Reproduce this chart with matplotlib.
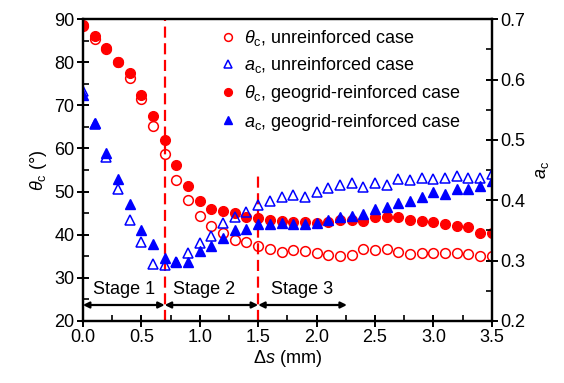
import numpy as np
import matplotlib
matplotlib.use("Agg")
import matplotlib.pyplot as plt
from matplotlib.ticker import MultipleLocator, FormatStrFormatter

plt.rcParams['font.family'] = ['Liberation Sans', 'DejaVu Sans']
plt.rcParams['mathtext.fontset'] = 'custom'
plt.rcParams['mathtext.rm'] = 'Liberation Sans'
plt.rcParams['mathtext.it'] = 'Liberation Sans:italic'
plt.rcParams['font.size'] = 13

# settlement increments (mm)
ds = [0.0, 0.1, 0.2, 0.3, 0.4, 0.5, 0.6, 0.7, 0.8, 0.9, 1.0, 1.1, 1.2,
      1.3, 1.4, 1.5, 1.6, 1.7, 1.8, 1.9, 2.0, 2.1, 2.2, 2.3, 2.4, 2.5,
      2.6, 2.7, 2.8, 2.9, 3.0, 3.1, 3.2, 3.3, 3.4, 3.5]

# critical angle theta_c (deg)
theta_unr = [88.5, 85.3, 83.1, 80.0, 76.3, 71.5, 65.2, 58.7, 52.6, 48.0,
             44.3, 42.0, 40.4, 38.8, 38.4, 37.4, 36.6, 35.9, 36.4, 36.2,
             35.8, 35.4, 35.1, 35.4, 36.8, 36.4, 36.6, 36.1, 35.5, 35.8,
             35.7, 35.7, 35.8, 35.5, 35.1, 35.1]
theta_geo = [88.6, 86.1, 83.2, 80.1, 77.4, 72.4, 67.5, 62.0, 56.2, 51.4,
             47.9, 45.9, 45.6, 45.1, 44.1, 43.9, 43.4, 43.2, 43.0, 43.0,
             42.8, 43.0, 43.4, 43.4, 43.2, 44.0, 44.2, 44.0, 43.4, 43.2,
             42.9, 42.4, 42.1, 41.9, 40.5, 40.3]

# shape coefficient a_c
a_unr = [0.581, 0.527, 0.471, 0.418, 0.368, 0.330, 0.294, 0.293, 0.298, 0.312,
         0.329, 0.341, 0.362, 0.373, 0.381, 0.392, 0.398, 0.405, 0.408, 0.405,
         0.414, 0.420, 0.425, 0.428, 0.422, 0.428, 0.426, 0.435, 0.433, 0.437,
         0.435, 0.437, 0.440, 0.437, 0.437, 0.443]
a_geo = [0.575, 0.528, 0.478, 0.436, 0.394, 0.351, 0.327, 0.305, 0.298, 0.297,
         0.316, 0.324, 0.338, 0.351, 0.352, 0.361, 0.361, 0.363, 0.361, 0.361,
         0.362, 0.367, 0.372, 0.374, 0.378, 0.385, 0.388, 0.395, 0.398, 0.405,
         0.414, 0.411, 0.418, 0.418, 0.424, 0.432]

# stage boundaries and labels
stage_bounds = [0.0, 0.7, 1.5, 2.26]
stage_names = ['Stage 1', 'Stage 2', 'Stage 3']
stage_label_x = [0.35, 1.04, 1.88]

red = '#ff0000'
blue = '#0000ff'

fig = plt.figure(figsize=(5.64, 3.83), dpi=100)
ax = fig.add_axes([0.147, 0.162, 0.725, 0.788])
ax2 = ax.twinx()

ms = 7
h1, = ax.plot(ds, theta_unr, 'o', ms=ms, mfc='none', mec=red, mew=1.1, ls='none')
h3, = ax.plot(ds, theta_geo, 'o', ms=ms, mfc=red, mec=red, ls='none')
h2, = ax2.plot(ds, a_unr, '^', ms=ms, mfc='none', mec=blue, mew=1.1, ls='none')
h4, = ax2.plot(ds, a_geo, '^', ms=ms, mfc=blue, mec=blue, ls='none')

# stage boundaries
ax.plot([0.7, 0.7], [20, 90], color=red, ls=(0, (5, 2.5)), lw=1.6)
ax.plot([1.5, 1.5], [20, 54.5], color=red, ls=(0, (5, 2.5)), lw=1.6)

for i, name in enumerate(stage_names):
    x0, x1 = stage_bounds[i], stage_bounds[i + 1]
    ax.annotate('', xy=(x1, 23.7), xytext=(x0, 23.7),
                arrowprops=dict(arrowstyle='<|-|>', color='black', lw=1.6,
                                mutation_scale=9, shrinkA=0, shrinkB=0))
    ax.text(stage_label_x[i], 27.2, name, ha='center', va='center')

ax.set_xlim(0, 3.5)
ax.set_ylim(20, 90)
ax2.set_ylim(0.2, 0.7)
ax.xaxis.set_major_locator(MultipleLocator(0.5))
ax.xaxis.set_minor_locator(MultipleLocator(0.25))
ax.yaxis.set_major_locator(MultipleLocator(10))
ax.yaxis.set_minor_locator(MultipleLocator(5))
ax2.yaxis.set_major_locator(MultipleLocator(0.1))
ax2.yaxis.set_minor_locator(MultipleLocator(0.05))
ax.xaxis.set_major_formatter(FormatStrFormatter('%.1f'))
ax2.yaxis.set_major_formatter(FormatStrFormatter('%.1f'))

for a in (ax, ax2):
    for sp in a.spines.values():
        sp.set_linewidth(1.6)
    a.tick_params(which='major', direction='inout', length=8, width=1.4,
                  labelsize=13, pad=2)
    a.tick_params(which='minor', direction='in', length=4, width=1.2)
ax.tick_params(top=False, which='both')

ax.set_xlabel(r'$\Delta$$\it{s}$ (mm)', labelpad=1)
ax.set_ylabel(r'$\theta_\mathrm{c}$ ($\degree$)', labelpad=4)
ax2.set_ylabel(r'$a_\mathrm{c}$', labelpad=6)

ax2.legend([h1, h2, h3, h4],
           [r'$\theta_\mathrm{c}$, unreinforced case',
            r'$a_\mathrm{c}$, unreinforced case',
            r'$\theta_\mathrm{c}$, geogrid-reinforced case',
            r'$a_\mathrm{c}$, geogrid-reinforced case'],
           loc='upper left', bbox_to_anchor=(0.32, 0.995), frameon=False,
           handlelength=0.8, handletextpad=0.45, labelspacing=0.42,
           borderaxespad=0, markerscale=0.8)

fig.savefig('out.png', dpi=100)
